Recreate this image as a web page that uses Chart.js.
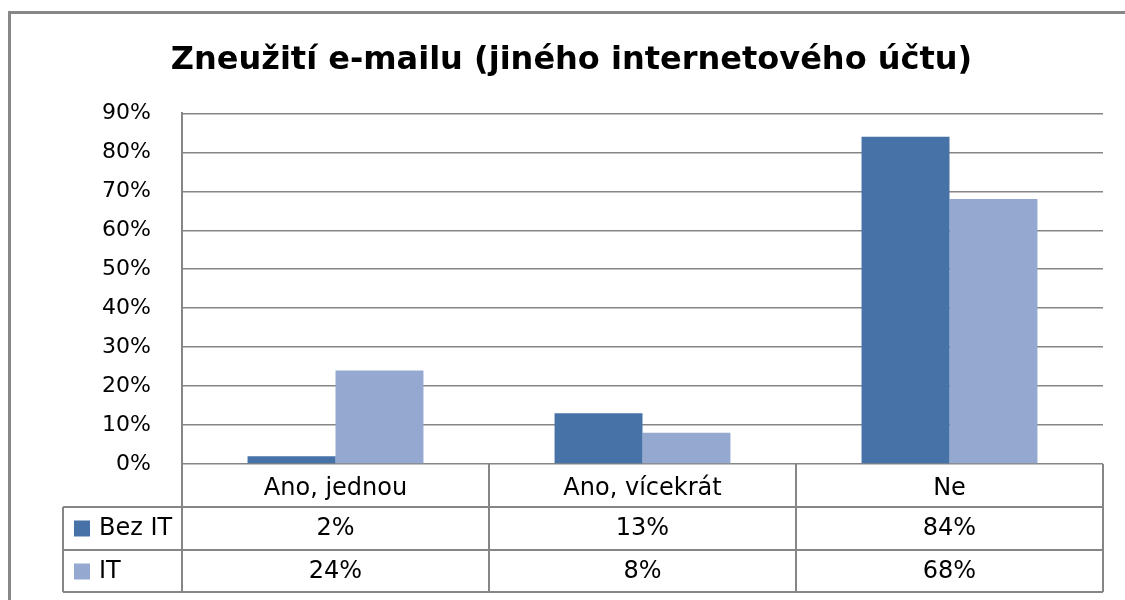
<!DOCTYPE html>
<html>
<head>
<meta charset="utf-8">
<script src="https://cdn.jsdelivr.net/npm/chart.js@4/dist/chart.umd.min.js"></script>
<style>
  html, body { margin: 0; padding: 0; background: #ffffff; }
  #wrap { width: 1125px; height: 600px; position: relative; }
</style>
</head>
<body>
<div id="wrap"><canvas id="c" width="1125" height="600"></canvas></div>
<script>
const titleText = 'Zneužití e-mailu (jiného internetového účtu)';
const categories = ['Ano, jednou', 'Ano, vícekrát', 'Ne'];
const seriesNames = ['Bez IT', 'IT'];
const bezIT = [2, 13, 84];
const itValues = [24, 8, 68];
const yMax = 90;
const yStep = 10;

const colors = ['#4672A8', '#95A9D0'];
const gridColor = '#868686';
const FONT = "'DejaVu Sans', Verdana, sans-serif";

const tablePlugin = {
  id: 'dataTable',
  afterDraw(chart) {
    const ctx = chart.ctx;
    const area = chart.chartArea;
    const x = chart.scales.x;
    const n = categories.length;
    const edges = [area.left];
    for (let i = 0; i < n - 1; i++) {
      edges.push((x.getPixelForValue(i) + x.getPixelForValue(i + 1)) / 2);
    }
    edges.push(area.right);
    const rowH = 43;
    const y0 = area.bottom;
    const y1 = y0 + rowH;
    const y2 = y1 + rowH;
    const y3 = y2 + 42;
    const legendLeft = 63;

    ctx.save();
    ctx.strokeStyle = gridColor;
    ctx.lineWidth = 2;
    ctx.beginPath();
    // horizontal table lines
    [y1, y2, y3].forEach(yy => { ctx.moveTo(legendLeft, yy); ctx.lineTo(area.right, yy); });
    // vertical lines
    ctx.moveTo(area.left, y0); ctx.lineTo(area.left, y3);
    for (let i = 1; i < edges.length; i++) {
      ctx.moveTo(edges[i], y0); ctx.lineTo(edges[i], y3);
    }
    ctx.moveTo(legendLeft, y1); ctx.lineTo(legendLeft, y3);
    ctx.stroke();

    // outer chart border
    ctx.strokeStyle = '#878787';
    ctx.lineWidth = 3;
    ctx.beginPath();
    ctx.moveTo(9.5, 605); ctx.lineTo(9.5, 12.5); ctx.lineTo(1130, 12.5);
    ctx.stroke();

    // table rows
    ctx.font = '24px ' + FONT;
    ctx.textBaseline = 'middle';
    const rows = [y1, y2];
    chart.data.datasets.forEach((ds, di) => {
      const cy = (rows[di] + rows[di] + rowH) / 2;
      ctx.fillStyle = ds.backgroundColor;
      ctx.fillRect(74, cy - 8, 16, 16);
      ctx.fillStyle = '#000000';
      ctx.textAlign = 'left';
      ctx.fillText(ds.label, 99, cy);
      ctx.textAlign = 'center';
      ds.data.forEach((v, i) => {
        ctx.fillText(v + '%', (edges[i] + edges[i + 1]) / 2, cy);
      });
    });
    ctx.restore();
  }
};

new Chart(document.getElementById('c'), {
  type: 'bar',
  data: {
    labels: categories,
    datasets: [
      { label: seriesNames[0], data: bezIT, backgroundColor: colors[0] },
      { label: seriesNames[1], data: itValues, backgroundColor: colors[1] }
    ]
  },
  options: {
    responsive: false,
    animation: false,
    devicePixelRatio: 1,
    layout: { padding: { left: 40, right: 22, top: 0, bottom: 0 } },
    datasets: { bar: { categoryPercentage: 0.573, barPercentage: 1.0, borderWidth: 0 } },
    plugins: {
      legend: { display: false },
      tooltip: { enabled: false },
      title: {
        display: true,
        text: titleText,
        color: '#000000',
        font: { family: FONT, size: 32, weight: 'bold' },
        padding: { top: 41, bottom: 34 }
      }
    },
    scales: {
      x: {
        grid: { display: false, drawTicks: false },
        border: { display: false },
        ticks: { color: '#000000', font: { family: FONT, size: 24 }, padding: 10, maxRotation: 0 },
        afterFit(scale) { scale.height = 136; }
      },
      y: {
        min: 0,
        max: yMax,
        ticks: {
          stepSize: yStep,
          color: '#000000',
          font: { family: FONT, size: 22 },
          padding: 31,
          callback: v => v + '%'
        },
        grid: { color: gridColor, lineWidth: 1.5, drawTicks: false },
        border: { display: true, color: gridColor, width: 2 },
        afterFit(scale) { scale.width = 142; }
      }
    }
  },
  plugins: [tablePlugin]
});
</script>
</body>
</html>
